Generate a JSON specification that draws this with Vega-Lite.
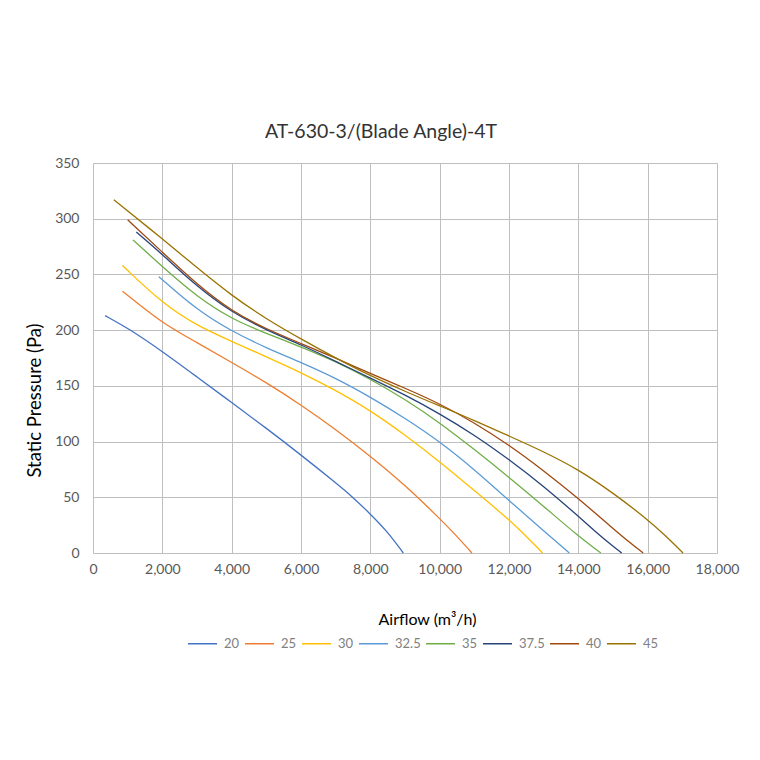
{
  "$schema": "https://vega.github.io/schema/vega-lite/v6.json",
  "description": "AT-630-3 fan curves, static pressure vs airflow by blade angle",
  "autosize": "none",
  "width": 624,
  "height": 390,
  "padding": {"left": 93, "top": 163, "right": 43, "bottom": 207},
  "background": "white",
  "config": {
    "font": "Lato",
    "view": {"stroke": null},
    "axis": {"labelFont": "Lato", "titleFont": "Lato"},
    "legend": {"labelFont": "Lato"}
  },
  "title": {
    "text": "AT-630-3/(Blade Angle)-4T",
    "fontSize": 19.5,
    "fontWeight": "normal",
    "color": "#333333",
    "offset": 14,
    "dx": -24
  },
  "data": {
    "values": [
      {"angle": "20", "airflow": 350, "pressure": 213},
      {"angle": "20", "airflow": 1000, "pressure": 202},
      {"angle": "20", "airflow": 2000, "pressure": 181},
      {"angle": "20", "airflow": 3000, "pressure": 158},
      {"angle": "20", "airflow": 4000, "pressure": 135},
      {"angle": "20", "airflow": 5000, "pressure": 112},
      {"angle": "20", "airflow": 6000, "pressure": 88},
      {"angle": "20", "airflow": 7000, "pressure": 63},
      {"angle": "20", "airflow": 7500, "pressure": 50},
      {"angle": "20", "airflow": 8000, "pressure": 35},
      {"angle": "20", "airflow": 8500, "pressure": 19},
      {"angle": "20", "airflow": 8950, "pressure": 0},

      {"angle": "25", "airflow": 850, "pressure": 235},
      {"angle": "25", "airflow": 2000, "pressure": 206},
      {"angle": "25", "airflow": 3000, "pressure": 189},
      {"angle": "25", "airflow": 4000, "pressure": 171},
      {"angle": "25", "airflow": 5000, "pressure": 153},
      {"angle": "25", "airflow": 6000, "pressure": 133},
      {"angle": "25", "airflow": 7000, "pressure": 111},
      {"angle": "25", "airflow": 8000, "pressure": 87},
      {"angle": "25", "airflow": 9000, "pressure": 61},
      {"angle": "25", "airflow": 10000, "pressure": 31},
      {"angle": "25", "airflow": 10500, "pressure": 15},
      {"angle": "25", "airflow": 10930, "pressure": 0},

      {"angle": "30", "airflow": 850, "pressure": 258},
      {"angle": "30", "airflow": 2000, "pressure": 224},
      {"angle": "30", "airflow": 3000, "pressure": 204},
      {"angle": "30", "airflow": 4000, "pressure": 190},
      {"angle": "30", "airflow": 5000, "pressure": 176},
      {"angle": "30", "airflow": 6000, "pressure": 162},
      {"angle": "30", "airflow": 7000, "pressure": 146},
      {"angle": "30", "airflow": 8000, "pressure": 128},
      {"angle": "30", "airflow": 9000, "pressure": 106},
      {"angle": "30", "airflow": 10000, "pressure": 82},
      {"angle": "30", "airflow": 11000, "pressure": 56},
      {"angle": "30", "airflow": 12000, "pressure": 30},
      {"angle": "30", "airflow": 12500, "pressure": 15},
      {"angle": "30", "airflow": 12970, "pressure": 0},

      {"angle": "32.5", "airflow": 1900, "pressure": 248},
      {"angle": "32.5", "airflow": 3000, "pressure": 218},
      {"angle": "32.5", "airflow": 4000, "pressure": 199},
      {"angle": "32.5", "airflow": 5000, "pressure": 184},
      {"angle": "32.5", "airflow": 6000, "pressure": 171},
      {"angle": "32.5", "airflow": 7000, "pressure": 157},
      {"angle": "32.5", "airflow": 8000, "pressure": 140},
      {"angle": "32.5", "airflow": 9000, "pressure": 121},
      {"angle": "32.5", "airflow": 10000, "pressure": 100},
      {"angle": "32.5", "airflow": 11000, "pressure": 75},
      {"angle": "32.5", "airflow": 12000, "pressure": 47},
      {"angle": "32.5", "airflow": 13000, "pressure": 20},
      {"angle": "32.5", "airflow": 13740, "pressure": 0},

      {"angle": "35", "airflow": 1150, "pressure": 281},
      {"angle": "35", "airflow": 2000, "pressure": 257},
      {"angle": "35", "airflow": 3000, "pressure": 230},
      {"angle": "35", "airflow": 4000, "pressure": 210},
      {"angle": "35", "airflow": 5000, "pressure": 197},
      {"angle": "35", "airflow": 6000, "pressure": 185},
      {"angle": "35", "airflow": 7000, "pressure": 172},
      {"angle": "35", "airflow": 8000, "pressure": 156},
      {"angle": "35", "airflow": 9000, "pressure": 138},
      {"angle": "35", "airflow": 10000, "pressure": 117},
      {"angle": "35", "airflow": 11000, "pressure": 93},
      {"angle": "35", "airflow": 12000, "pressure": 68},
      {"angle": "35", "airflow": 13000, "pressure": 42},
      {"angle": "35", "airflow": 14000, "pressure": 15},
      {"angle": "35", "airflow": 14650, "pressure": 0},

      {"angle": "37.5", "airflow": 1250, "pressure": 288},
      {"angle": "37.5", "airflow": 2000, "pressure": 268},
      {"angle": "37.5", "airflow": 3000, "pressure": 239},
      {"angle": "37.5", "airflow": 4000, "pressure": 216},
      {"angle": "37.5", "airflow": 5000, "pressure": 200},
      {"angle": "37.5", "airflow": 6000, "pressure": 187},
      {"angle": "37.5", "airflow": 7000, "pressure": 172},
      {"angle": "37.5", "airflow": 8000, "pressure": 157},
      {"angle": "37.5", "airflow": 9000, "pressure": 142},
      {"angle": "37.5", "airflow": 10000, "pressure": 125},
      {"angle": "37.5", "airflow": 11000, "pressure": 106},
      {"angle": "37.5", "airflow": 12000, "pressure": 84},
      {"angle": "37.5", "airflow": 13000, "pressure": 60},
      {"angle": "37.5", "airflow": 14000, "pressure": 33},
      {"angle": "37.5", "airflow": 14500, "pressure": 19},
      {"angle": "37.5", "airflow": 15000, "pressure": 6},
      {"angle": "37.5", "airflow": 15250, "pressure": 0},

      {"angle": "40", "airflow": 1000, "pressure": 299},
      {"angle": "40", "airflow": 2000, "pressure": 270},
      {"angle": "40", "airflow": 3000, "pressure": 241},
      {"angle": "40", "airflow": 4000, "pressure": 217},
      {"angle": "40", "airflow": 5000, "pressure": 201},
      {"angle": "40", "airflow": 6000, "pressure": 188},
      {"angle": "40", "airflow": 7000, "pressure": 175},
      {"angle": "40", "airflow": 8000, "pressure": 161},
      {"angle": "40", "airflow": 9000, "pressure": 148},
      {"angle": "40", "airflow": 10000, "pressure": 134},
      {"angle": "40", "airflow": 11000, "pressure": 117},
      {"angle": "40", "airflow": 12000, "pressure": 97},
      {"angle": "40", "airflow": 13000, "pressure": 74},
      {"angle": "40", "airflow": 14000, "pressure": 49},
      {"angle": "40", "airflow": 15000, "pressure": 22},
      {"angle": "40", "airflow": 15500, "pressure": 9},
      {"angle": "40", "airflow": 15870, "pressure": 0},

      {"angle": "45", "airflow": 600, "pressure": 317},
      {"angle": "45", "airflow": 2000, "pressure": 282},
      {"angle": "45", "airflow": 3000, "pressure": 256},
      {"angle": "45", "airflow": 4000, "pressure": 231},
      {"angle": "45", "airflow": 5000, "pressure": 210},
      {"angle": "45", "airflow": 6000, "pressure": 192},
      {"angle": "45", "airflow": 7000, "pressure": 175},
      {"angle": "45", "airflow": 8000, "pressure": 159},
      {"angle": "45", "airflow": 9000, "pressure": 145},
      {"angle": "45", "airflow": 10000, "pressure": 132},
      {"angle": "45", "airflow": 11000, "pressure": 119},
      {"angle": "45", "airflow": 12000, "pressure": 105},
      {"angle": "45", "airflow": 13000, "pressure": 91},
      {"angle": "45", "airflow": 14000, "pressure": 75},
      {"angle": "45", "airflow": 15000, "pressure": 54},
      {"angle": "45", "airflow": 16000, "pressure": 30},
      {"angle": "45", "airflow": 16500, "pressure": 16},
      {"angle": "45", "airflow": 17020, "pressure": 0}
    ]
  },
  "mark": {"type": "line", "interpolate": "basis", "strokeWidth": 1.3},
  "encoding": {
    "x": {
      "field": "airflow",
      "type": "quantitative",
      "scale": {"domain": [0, 18000], "nice": false},
      "axis": {
        "title": "Airflow (m³/h)",
        "titleFontSize": 16,
        "titleFontWeight": "normal",
        "titleColor": "#000000",
        "titlePadding": 35,
        "titleX": 334,
        "values": [0, 2000, 4000, 6000, 8000, 10000, 12000, 14000, 16000, 18000],
        "format": ",d",
        "labelFontSize": 14,
        "labelColor": "#595959",
        "labelPadding": 9,
        "labelFlush": false,
        "domain": false,
        "ticks": false,
        "grid": true,
        "gridColor": "#bfbfbf",
        "gridWidth": 1
      }
    },
    "y": {
      "field": "pressure",
      "type": "quantitative",
      "scale": {"domain": [0, 350], "nice": false},
      "axis": {
        "title": "Static Pressure (Pa)",
        "titleFontSize": 18.5,
        "titleFontWeight": "normal",
        "titleColor": "#000000",
        "titlePadding": 10,
        "titleY": 237,
        "values": [0, 50, 100, 150, 200, 250, 300, 350],
        "labelFontSize": 14,
        "labelColor": "#595959",
        "labelPadding": 14,
        "domain": false,
        "ticks": false,
        "grid": true,
        "gridColor": "#bfbfbf",
        "gridWidth": 1
      }
    },
    "color": {
      "field": "angle",
      "type": "nominal",
      "scale": {
        "domain": ["20", "25", "30", "32.5", "35", "37.5", "40", "45"],
        "range": ["#4472C4", "#ED7D31", "#FFC000", "#5B9BD5", "#70AD47", "#264478", "#9E480E", "#997300"]
      },
      "legend": {
        "title": null,
        "orient": "none",
        "direction": "horizontal",
        "legendX": 94,
        "legendY": 465,
        "symbolType": "stroke",
        "symbolSize": 841,
        "symbolStrokeWidth": 1.5,
        "labelFontSize": 13,
        "labelColor": "#808080",
        "labelOffset": 6,
        "columnPadding": 2
      }
    }
  }
}
